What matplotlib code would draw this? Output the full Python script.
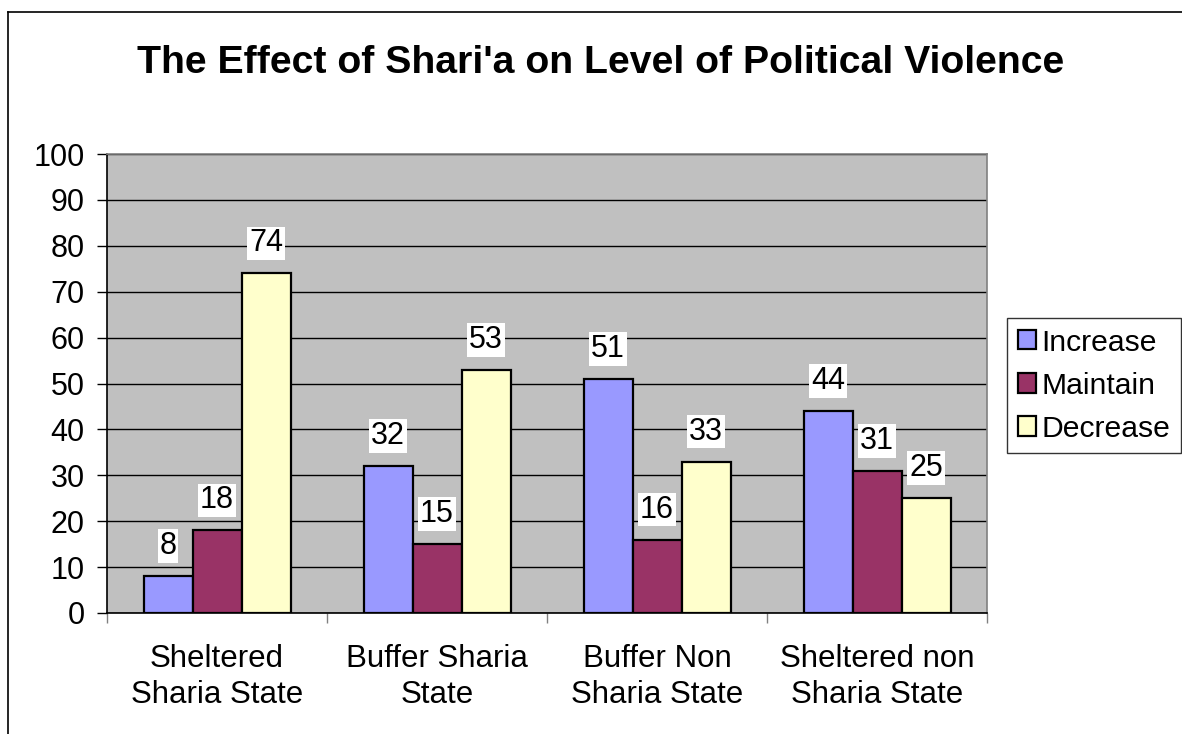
import matplotlib
matplotlib.use("Agg")
import matplotlib.pyplot as plt
from matplotlib.lines import Line2D
import numpy as np

plt.rcParams['font.family'] = ['Liberation Sans', 'DejaVu Sans']

title = "The Effect of Shari'a on Level of Political Violence"
categories = ["Sheltered\nSharia State", "Buffer Sharia\nState",
              "Buffer Non\nSharia State", "Sheltered non\nSharia State"]
series_names = ["Increase", "Maintain", "Decrease"]
increase = [8, 32, 51, 44]
maintain = [18, 15, 16, 31]
decrease = [74, 53, 33, 25]
colors = ["#9999FF", "#993366", "#FFFFCC"]
yticks = list(range(0, 101, 10))

W, H = 1182, 734
fig = plt.figure(figsize=(W / 100, H / 100), dpi=100)
ax = fig.add_axes([107 / W, 1 - 613 / H, (987 - 107) / W, (613 - 154) / H])
ax.set_facecolor("#C0C0C0")

bw = 49 / 220
x = np.arange(len(categories)) + 0.5
for i, (name, vals, c) in enumerate(zip(series_names, [increase, maintain, decrease], colors)):
    xs = x + (i - 1) * bw
    ax.bar(xs, vals, width=bw, color=c, edgecolor="black", linewidth=1.6,
           label=name, zorder=3)
    for xi, v in zip(xs, vals):
        ax.annotate(str(v), (xi, v), xytext=(0, 30), textcoords="offset pixels",
                    ha="center", va="center", fontsize=22, zorder=4,
                    bbox=dict(boxstyle="square,pad=0.06", fc="white", ec="none"))

ax.set_ylim(0, 100)
ax.set_xlim(0, 4)
ax.set_yticks(yticks)
ax.set_yticklabels([str(t) for t in yticks], fontsize=22)
ax.yaxis.grid(True, color="black", linewidth=1.0, zorder=1)
ax.set_axisbelow(True)
ax.tick_params(axis="y", length=7, width=1, pad=9, color="black")

ax.set_xticks([0, 1, 2, 3, 4])
ax.set_xticklabels([])
ax.set_xticks(x, minor=True)
ax.set_xticklabels(categories, minor=True, fontsize=22.5, linespacing=1.28)
ax.tick_params(axis="x", which="major", length=7, width=1, color="#808080")
ax.tick_params(axis="x", which="minor", length=0, pad=22)

for s in ["left", "bottom"]:
    ax.spines[s].set_color("black")
    ax.spines[s].set_linewidth(1.2)
for s in ["top", "right"]:
    ax.spines[s].set_color("#808080")
    ax.spines[s].set_linewidth(1.2)

fig.text(601 / W, 1 - 63 / H, title, ha="center", va="center",
         fontsize=28.3, fontweight="bold")

leg = ax.legend(loc="upper left", bbox_to_anchor=(1007 / W, 1 - 318 / H),
                bbox_transform=fig.transFigure, fontsize=21.7, frameon=True,
                fancybox=False, handlelength=0.6, handleheight=0.6,
                handletextpad=0.2, borderpad=0.35, labelspacing=0.5,
                borderaxespad=0)
leg.get_frame().set_edgecolor("black")
leg.get_frame().set_linewidth(1.0)

fig.add_artist(Line2D([8 / W, 8 / W], [0, 1 - 12 / H], color="black", linewidth=1.2,
                      transform=fig.transFigure))
fig.add_artist(Line2D([8 / W, 1], [1 - 12 / H, 1 - 12 / H], color="black", linewidth=1.2,
                      transform=fig.transFigure))

fig.savefig("out.png", dpi=100)
